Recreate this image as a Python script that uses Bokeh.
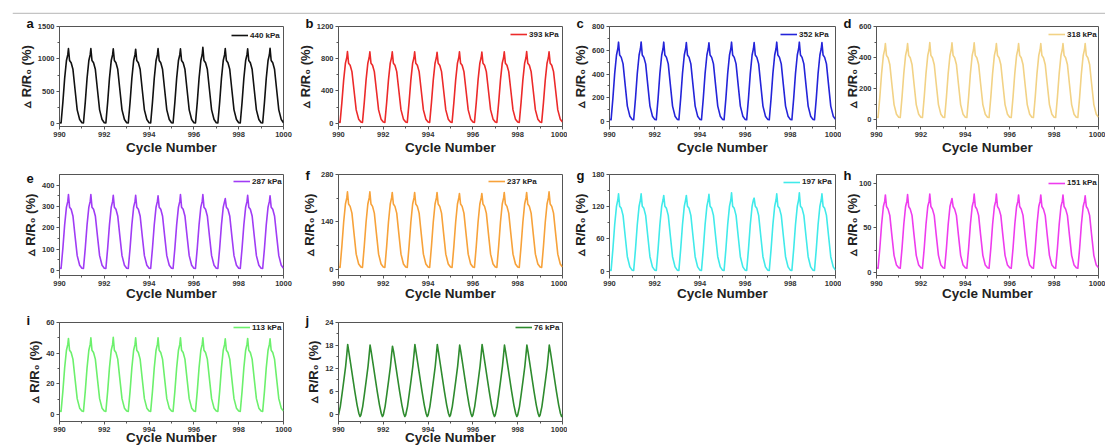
from bokeh.plotting import figure
from bokeh.layouts import column, row
from bokeh.models import Range1d, FixedTicker, Legend, LegendItem, Span
from bokeh.embed import file_html
from bokeh.resources import INLINE

# ---------------- data ----------------
cycle_start = [990, 991, 992, 993, 994, 995, 996, 997, 998, 999]
x_end = 1000.0
# sampling positions inside one loading cycle (fraction of a cycle)
phase = [0.00, 0.07, 0.15, 0.23, 0.31, 0.37, 0.40, 0.45, 0.52, 0.60, 0.69, 0.79, 0.90]
j_phase = [0.00, 0.08, 0.16, 0.24, 0.32, 0.37, 0.41, 0.46, 0.54, 0.63, 0.73, 0.83, 0.91, 0.96]
peak_slot = 6

x_ticks = [990, 992, 994, 996, 998, 1000]
x_minor = [991, 993, 995, 997, 999]

letters = ["a", "b", "c", "d", "e", "f", "g", "h", "i", "j"]
pressures = ["440 kPa", "393 kPa", "352 kPa", "318 kPa", "287 kPa",
             "237 kPa", "197 kPa", "151 kPa", "113 kPa", "76 kPa"]
colors = ["#111111", "#ec2a2a", "#2424d9", "#f2d285", "#a03cf5",
          "#f7a23a", "#40eaea", "#ee3cee", "#6cf06c", "#2e8b2e"]

a_shape = [15, 12, 330, 700, 975, 1065, 1160, 975, 940, 840, 540, 215, 65]
a_peaks = [1160, 1160, 1155, 1150, 1160, 1155, 1180, 1160, 1155, 1165]
b_shape = [15, 10, 255, 535, 745, 815, 888, 745, 720, 640, 415, 165, 50]
b_peaks = [888, 885, 885, 885, 880, 885, 882, 885, 888, 885]
c_shape = [18, 15, 195, 405, 560, 615, 668, 560, 540, 485, 315, 130, 45]
c_peaks = [668, 670, 668, 665, 662, 668, 665, 668, 668, 665]
d_shape = [17, 15, 146, 299, 414, 452, 490, 414, 399, 356, 232, 98, 36]
d_peaks = [490, 490, 497, 495, 495, 490, 490, 490, 490, 490]
e_shape = [11, 10, 104, 214, 297, 324, 352, 297, 287, 256, 166, 70, 25]
e_peaks = [356, 356, 353, 353, 350, 356, 356, 337, 353, 350]
f_shape = [7, 6, 68, 139, 193, 211, 229, 193, 186, 166, 108, 45, 16]
f_peaks = [229, 229, 227, 227, 227, 224, 224, 227, 227, 229]
g_shape = [2, 1.5, 41, 87, 121, 133, 144, 121, 117, 104, 67, 27, 8]
g_peaks = [144, 144, 141, 141, 143, 146, 136, 144, 146, 144]
h_shape = [5, 4.5, 27, 54, 74, 80, 87, 74, 71, 64, 42, 19, 8]
h_peaks = [87, 87.5, 88, 83, 88, 88, 87, 87, 87, 86]
i_shape = [2.2, 2.0, 15.1, 30.4, 41.9, 45.7, 49.5, 41.9, 40.4, 36.1, 23.7, 10.3, 4.1]
i_peaks = [49.6, 50.0, 50.4, 50.0, 50.0, 50.0, 50.0, 49.4, 49.6, 49.4]
j_shape = [-0.2, 2.0, 5.4, 8.9, 12.6, 15.6, 18.2, 16.4, 13.3, 9.8, 5.9, 2.4, 0.2, -0.6]
j_peaks = [18.25, 18.1, 17.8, 18.25, 18.25, 18.1, 18.25, 18.1, 18.1, 18.1]

shapes = [a_shape, b_shape, c_shape, d_shape, e_shape, f_shape, g_shape, h_shape, i_shape, j_shape]
peaks = [a_peaks, b_peaks, c_peaks, d_peaks, e_peaks, f_peaks, g_peaks, h_peaks, i_peaks, j_peaks]
phases = [phase] * 9 + [j_phase]

y_ranges = [(-42, 1500), (-41, 1200), (-42, 800), (-43, 600), (-23, 450),
            (-18, 280), (-8, 180), (-3.7, 110), (-4.6, 60), (-1.9, 24)]
y_ticks = [[0, 500, 1000, 1500], [0, 400, 800, 1200], [0, 200, 400, 600, 800],
           [0, 200, 400, 600], [0, 100, 200, 300, 400], [0, 140, 280],
           [0, 60, 120, 180], [0, 50, 100], [0, 20, 40, 60], [0, 6, 12, 18, 24]]
y_minor = [[250, 750, 1250], [200, 600, 1000], [100, 300, 500, 700], [100, 300, 500],
           [50, 150, 250, 350], [70, 210], [30, 90, 150], [25, 75], [10, 30, 50],
           [3, 9, 15, 21]]

# ---------------- layout / style ----------------
col_left = [59, 45, 42, 33]
col_frame = [224, 224, 226, 224]
col_right = [10, 5, 6, 7]
ylabel_standoff = [1, 1, 1, -4]
row_top = [12, 16, 16]
row_frame = [100, 101, 102]
row_bottom = [32, 31, 23]
title_standoff = [-9, -16, -11]
xlabel_standoff = [0, -3, -5]
# legend line start (px from frame left) and line height (px below frame top)
legend_pos = [(172, 9), (172, 8), (171, 8), (172, 8), (174, 7),
              (150, 7), (174, 7.5), (172, 8.5), (174, 8), (177, 8)]

FONT = "Liberation Sans"
AX = "#555555"


def build_series(k):
    xs, ys = [], []
    for c, pk in zip(cycle_start, peaks[k]):
        for i, (ph, v) in enumerate(zip(phases[k], shapes[k])):
            xs.append(c + ph)
            ys.append(pk if i == peak_slot else v)
    xs.append(x_end)
    ys.append(shapes[k][0])
    return xs, ys


def make_panel(k):
    r, c = divmod(k, 4)
    y0, y1 = y_ranges[k]
    fw, fh = col_frame[c], row_frame[r]
    p = figure(width=col_left[c] + fw + col_right[c],
               height=row_top[r] + fh + row_bottom[r],
               x_range=Range1d(990, 1000), y_range=Range1d(y0, y1),
               title=letters[k],
               output_backend="svg", toolbar_location=None, tools="",
               min_border_left=col_left[c], min_border_right=col_right[c],
               min_border_top=row_top[r], min_border_bottom=row_bottom[r])
    p.grid.visible = False
    p.outline_line_color = AX
    p.outline_line_width = 1
    p.background_fill_color = "white"
    p.border_fill_color = "white"

    p.title.align = "left"
    p.title.offset = -33
    p.title.standoff = title_standoff[r]
    p.title.text_font = FONT
    p.title.text_font_style = "bold"
    p.title.text_font_size = "13px"
    p.title.text_color = "#111111"

    p.xaxis.ticker = FixedTicker(ticks=x_ticks, minor_ticks=x_minor)
    p.yaxis.ticker = FixedTicker(ticks=y_ticks[k], minor_ticks=y_minor[k])
    for ax in (p.xaxis[0], p.yaxis[0]):
        ax.axis_line_color = AX
        ax.major_tick_line_color = AX
        ax.minor_tick_line_color = AX
        ax.major_tick_in = 0
        ax.major_tick_out = 3
        ax.minor_tick_in = 0
        ax.minor_tick_out = 2
        ax.major_label_standoff = 2
        ax.major_label_text_font = FONT
        ax.major_label_text_font_style = "bold"
        ax.major_label_text_font_size = "7.5px"
        ax.major_label_text_color = "#333333"
        ax.axis_label_text_font = FONT
        ax.axis_label_text_font_style = "bold"
        ax.axis_label_text_color = "#222222"

    p.xaxis.axis_label = "Cycle Number"
    p.xaxis.axis_label_text_font_size = "13.5px"
    p.xaxis.axis_label_standoff = xlabel_standoff[r]
    p.yaxis.axis_label = "\u25b5 R/R\u2080 (%)"
    p.yaxis.axis_label_text_font_size = "13px"
    p.yaxis.axis_label_standoff = ylabel_standoff[c]

    xs, ys = build_series(k)
    ren = p.line(xs, ys, line_color=colors[k], line_width=1.6, line_join="round")

    vx, gap = legend_pos[k]
    leg = Legend(items=[LegendItem(label=pressures[k], renderers=[ren])],
                 location=(vx, fh - gap - 6), glyph_width=17, glyph_height=12,
                 label_height=12, label_width=10, label_standoff=2, padding=0,
                 margin=0, spacing=0, border_line_color=None,
                 background_fill_alpha=0, label_text_font=FONT,
                 label_text_font_style="bold", label_text_font_size="8px",
                 label_text_color="#222222")
    p.add_layout(leg)
    return p


panels = [make_panel(k) for k in range(10)]

strip = figure(width=1105, height=14, x_range=Range1d(0, 1), y_range=Range1d(0, 14),
               output_backend="svg", toolbar_location=None, tools="",
               x_axis_location=None, y_axis_location=None,
               min_border_left=12, min_border_right=0, min_border_top=0,
               min_border_bottom=0)
strip.grid.visible = False
strip.outline_line_color = None
strip.add_layout(Span(location=1, dimension="width", line_color="#c4c4c4", line_width=1.5))

layout = column(strip,
                row(panels[0], panels[1], panels[2], panels[3]),
                row(panels[4], panels[5], panels[6], panels[7]),
                row(panels[8], panels[9]))

open("out.html", "w").write(file_html(layout, INLINE, title="Cycle stability"))
